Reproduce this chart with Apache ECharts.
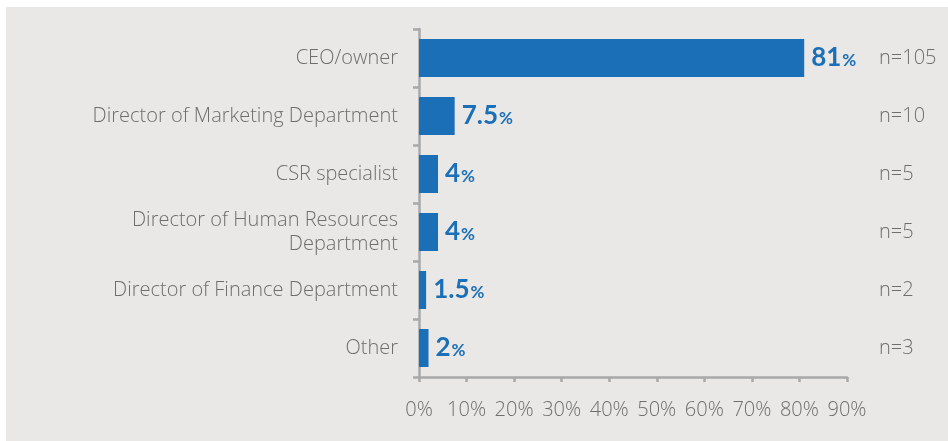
<!DOCTYPE html>
<html>
<head>
<meta charset="utf-8">
<title>Respondent position</title>
<script src="https://cdn.jsdelivr.net/npm/echarts@6/dist/echarts.min.js"></script>
<style>
  html, body { margin: 0; padding: 0; background: #ffffff; }
  #box { position: absolute; left: 6px; top: 7px; width: 942px; height: 434px; }
</style>
</head>
<body>
<div id="box"></div>
<script>
// data
var categories = ['CEO/owner', 'Director of Marketing Department', 'CSR specialist',
  'Director of Human Resources\nDepartment', 'Director of Finance Department', 'Other'];
var shares = [81, 7.5, 4, 4, 1.5, 2];
var counts = [105, 10, 5, 5, 2, 3];
var xTicks = [0, 10, 20, 30, 40, 50, 60, 70, 80, 90];

var FONT = '"Open Sans", Lato, sans-serif';
var BOLD = 'Lato, sans-serif';
var GREY = '#6e6e6e';
var AXIS = '#a8a8aa';
var BLUE = '#1b6fb6';

var myChart = echarts.init(document.getElementById('box'));

var option = {
  backgroundColor: '#e9e8e6',
  animation: false,
  grid: { left: 413, right: 101, top: 22, bottom: 64, containLabel: false },
  xAxis: {
    type: 'value',
    min: xTicks[0],
    max: xTicks[xTicks.length - 1],
    interval: 10,
    axisLine: { show: true, lineStyle: { color: AXIS, width: 2.5 } },
    axisTick: { show: true, length: 5, lineStyle: { color: AXIS, width: 2.5 } },
    splitLine: { show: false },
    axisLabel: {
      margin: 23, color: GREY, fontFamily: FONT, fontSize: 20, fontWeight: 300,
      formatter: function (v) { return v + '%'; }
    }
  },
  yAxis: [{
    type: 'category',
    data: categories,
    inverse: true,
    axisLine: { show: true, lineStyle: { color: AXIS, width: 2.5 } },
    axisTick: { show: true, length: 6, lineStyle: { color: AXIS, width: 2.5 } },
    axisLabel: {
      margin: 21, color: GREY, fontFamily: FONT, fontSize: 20, fontWeight: 300,
      align: 'right', lineHeight: 24
    }
  }, {
    type: 'category',
    data: counts.map(function (n) { return 'n=' + n; }),
    inverse: true,
    position: 'right',
    axisLine: { show: false },
    axisTick: { show: false },
    axisLabel: {
      margin: 32, color: GREY, fontFamily: FONT, fontSize: 20, fontWeight: 300,
      align: 'left'
    }
  }],
  series: [{
    type: 'bar',
    data: shares,
    barWidth: 38,
    itemStyle: { color: BLUE },
    label: {
      show: true,
      position: 'right',
      distance: 7,
      formatter: function (p) { return '{v|' + p.value + '}{p|%}'; },
      rich: {
        v: { color: BLUE, fontFamily: BOLD, fontWeight: 'bold', fontSize: 26 },
        p: { color: BLUE, fontFamily: BOLD, fontWeight: 'bold', fontSize: 17, padding: [5, 0, 0, 1] }
      }
    }
  }]
};

myChart.setOption(option);
</script>
</body>
</html>
